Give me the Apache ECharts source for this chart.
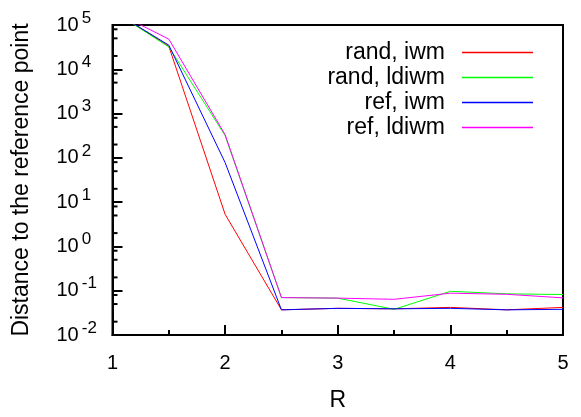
<!DOCTYPE html>
<html>
<head>
<meta charset="utf-8">
<script src="https://cdn.jsdelivr.net/npm/echarts@6/dist/echarts.min.js"></script>
<style>
  html, body { margin: 0; padding: 0; background: #fff; }
  #chart { width: 581px; height: 417px; }
</style>
</head>
<body>
<div id="chart"></div>
<script>
// R 值
const rValues = [1, 1.5, 2, 2.5, 3, 3.5, 4, 4.5, 5];
// 各曲线数据
const randIwm = [2.1e5, 33000, 5.3, 0.037, 0.040, 0.039, 0.042, 0.037, 0.042];
const randLdiwm = [2.1e5, 32000, 318, 0.070, 0.068, 0.038, 0.097, 0.085, 0.082];
const refIwm = [2.1e5, 35000, 78, 0.037, 0.040, 0.039, 0.040, 0.037, 0.038];
const refLdiwm = [2.1e5, 48000, 333, 0.070, 0.068, 0.064, 0.088, 0.083, 0.069];
const seriesNames = ['rand, iwm', 'rand, ldiwm', 'ref, iwm', 'ref, ldiwm'];
const seriesColors = ['#ff0000', '#00ff00', '#0000ff', '#ff00ff'];
// 对数轴小刻度 (每个数量级的 2, 5, 8)
const minorMantissa = [2, 5, 8];
const decades = [-2, -1, 0, 1, 2, 3, 4];

const FONT = '"Liberation Sans", Arial, sans-serif';
const allData = [randIwm, randLdiwm, refIwm, refLdiwm];

const minorTicks = [];
decades.forEach(d => minorMantissa.forEach(m => minorTicks.push(m * Math.pow(10, d))));

const legendRows = [36, 61, 86, 111];

const option = {
  animation: false,
  backgroundColor: '#fff',
  grid: {
    left: 112.5, right: 18, top: 25, bottom: 80,
    show: true, borderColor: '#000', borderWidth: 2
  },
  legend: seriesNames.map((n, i) => ({
    data: [n],
    right: 43,
    top: legendRows[i],
    align: 'right',
    icon: 'rect',
    itemWidth: 71,
    itemHeight: 1.5,
    selectedMode: false,
    textStyle: { fontSize: 23, color: '#000', fontFamily: FONT, padding: [0, 12, 0, 0] }
  })),
  xAxis: {
    type: 'value',
    min: 1, max: 5, interval: 1,
    name: 'R',
    nameLocation: 'middle',
    nameGap: 54,
    nameTextStyle: { fontSize: 23, color: '#000', fontFamily: FONT },
    axisLine: { onZero: false, lineStyle: { color: '#000', width: 2 } },
    axisTick: { inside: true, length: 10, lineStyle: { color: '#000', width: 2 } },
    minorTick: { show: true, splitNumber: 2, length: 5, lineStyle: { color: '#000', width: 2 } },
    axisLabel: { fontSize: 20, color: '#000', fontFamily: FONT, margin: 18 },
    splitLine: { show: false }
  },
  yAxis: {
    type: 'log',
    logBase: 10,
    min: 0.01, max: 1e5,
    name: 'Distance to the reference point',
    nameLocation: 'middle',
    nameGap: 79,
    nameTextStyle: { fontSize: 23, color: '#000', fontFamily: FONT },
    axisLine: { onZero: false, lineStyle: { color: '#000', width: 2 } },
    axisTick: { inside: true, length: 10, lineStyle: { color: '#000', width: 2 } },
    axisLabel: {
      align: 'left',
      margin: 56,
      fontSize: 20,
      color: '#000',
      fontFamily: FONT,
      formatter: v => '10{sup|' + Math.round(Math.log10(v)) + '}',
      rich: {
        sup: { fontSize: 17, color: '#000', fontFamily: FONT, padding: [0, 0, 14, 3] }
      }
    },
    splitLine: { show: false }
  },
  series: allData.map((d, i) => ({
    name: seriesNames[i],
    type: 'line',
    data: rValues.map((r, j) => [r, d[j]]),
    symbol: 'none',
    clip: true,
    color: seriesColors[i],
    lineStyle: { width: 1, color: seriesColors[i] }
  }))
};

const myChart = echarts.init(document.getElementById('chart'));
myChart.setOption(option);

// 对数轴小刻度: 位置由 y 轴比例尺换算
function drawMinorTicks() {
  const x0 = myChart.convertToPixel({ xAxisIndex: 0 }, rValues[0]);
  myChart.setOption({
    graphic: minorTicks.map(v => {
      const y = myChart.convertToPixel({ yAxisIndex: 0 }, v);
      return {
        type: 'line',
        shape: { x1: x0, y1: y, x2: x0 + 5, y2: y },
        style: { stroke: '#000', lineWidth: 2 },
        silent: true
      };
    })
  });
}
drawMinorTicks();

window.addEventListener('resize', () => {
  myChart.resize();
  drawMinorTicks();
});
</script>
</body>
</html>
